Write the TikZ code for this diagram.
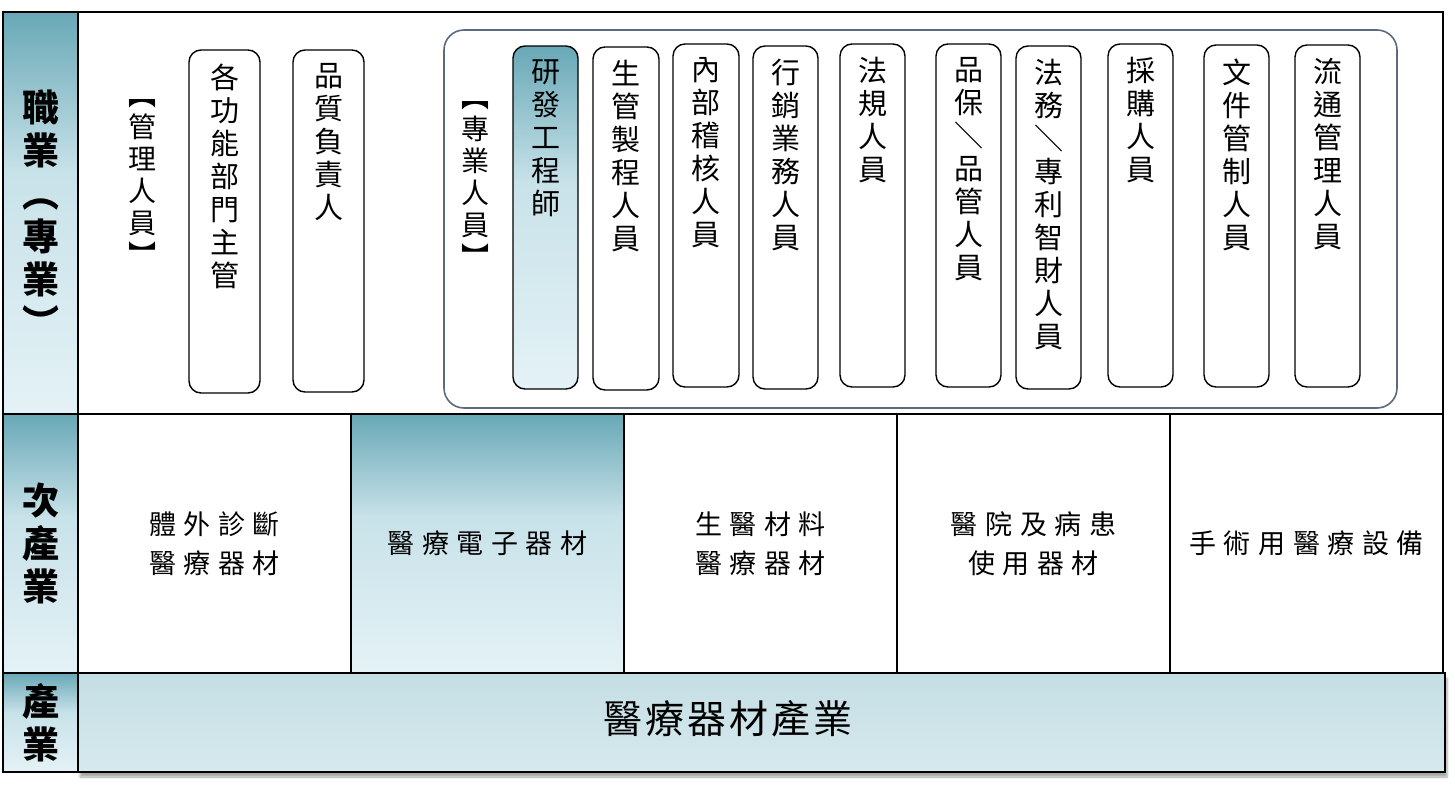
\documentclass[tikz,border=0pt]{standalone}
\usepackage{fontspec}
\setmainfont{Noto Sans CJK TC}
\newfontfamily\cjksp{Noto Sans CJK TC}[LetterSpace=28]
\newfontfamily\cjkbot{Noto Sans CJK TC}[LetterSpace=8]
\usetikzlibrary{shadows.blur}
\definecolor{htop}{RGB}{104,168,182}
\definecolor{hmid}{RGB}{200,226,233}
\definecolor{hbot}{RGB}{228,242,246}
\definecolor{botfill}{RGB}{196,222,228}
\definecolor{botfill2}{RGB}{214,233,238}
\definecolor{frameblue}{RGB}{92,106,126}
\pgfdeclareverticalshading{hdrshade}{100bp}{color(0bp)=(hbot); color(25bp)=(hbot); color(55bp)=(hmid); color(75bp)=(htop); color(100bp)=(htop)}
\tikzset{
  hdr/.style={draw=black, line width=2pt, shade, shading=hdrshade, inner sep=0pt, outer sep=0pt,
    align=center, font=\bfseries\fontsize{37}{43}\selectfont},
  cell/.style={draw=black, line width=1.5pt, fill=white, inner sep=0pt, outer sep=0pt,
    align=center, font=\cjksp\fontsize{27}{39}\selectfont},
  pbox/.style={draw=black, line width=1.4pt, rounded corners=12pt, inner sep=0pt},
  wbox/.style={pbox, fill=white},
  sbox/.style={pbox, shade, shading=hdrshade},
  vtext/.style={font=\fontsize{29}{33}\selectfont, align=center, inner sep=0pt, anchor=north},
  vlabel/.style={font=\fontsize{28}{32}\selectfont, align=center, inner sep=0pt},
}
\begin{document}
\begin{tikzpicture}[x=1pt,y=-1pt]
\useasboundingbox (0,0) rectangle (1455,790);
% row 1
\node[cell, minimum width=1365, minimum height=402] (c1) at (760.5,213) {};
\node[hdr, minimum width=75, minimum height=402] (h1) at (40.5,213) {職\\業\\︵\\專\\業\\︶};
% row 2
\node[hdr, minimum width=75, minimum height=259] (h2) at (40.5,543.5) {次\\產\\業};
\node[cell] (s1) at (214.5,543.5) [minimum width=273, minimum height=259] {體外診斷\\醫療器材};
\node[cell, shade, shading=hdrshade] (s2) at (487.5,543.5) [minimum width=273, minimum height=259] {醫療電子器材};
\node[cell] (s3) at (760.5,543.5) [minimum width=273, minimum height=259] {生醫材料\\醫療器材};
\node[cell] (s4) at (1033.5,543.5) [minimum width=273, minimum height=259] {醫院及病患\\使用器材};
\node[cell] (s5) at (1306.5,543.5) [minimum width=273, minimum height=259] {手術用醫療設備};
% row 3
\node[draw=black, line width=2pt, top color=botfill, bottom color=botfill2, minimum width=1367, minimum height=99,
  inner sep=0pt, blur shadow={shadow xshift=2pt, shadow yshift=-5pt, shadow blur steps=6, shadow opacity=35}] (ind) at (761.5,722.5) {};
\node[font=\cjkbot\fontsize{39}{42}\selectfont, inner sep=0pt] (indt) at (728,719) {醫療器材產業};
\node[hdr, minimum width=75, minimum height=99] (h3) at (40.5,722.5) {產\\業};
% management
\node[vlabel] (mgr) at (142,182) {︻\\管\\理\\人\\員\\︼};
\node[wbox, minimum width=71, minimum height=343] (m1) at (224.5,221.5) {};
\node[vtext] (m1t) at ([yshift=-14pt]m1.north) {各\\功\\能\\部\\門\\主\\管};
\node[wbox, minimum width=71, minimum height=342] (m2) at (328.5,221) {};
\node[vtext] (m2t) at ([yshift=-14pt]m2.north) {品\\質\\負\\責\\人};
% professionals frame
\node[draw=frameblue, line width=1.6pt, rounded corners=20pt, minimum width=953, minimum height=378, inner sep=0pt] (pf) at (920.5,219) {};
\node[vlabel] (pro) at (475,184) {︻\\專\\業\\人\\員\\︼};
\node[sbox, minimum width=65, minimum height=343] (p1) at (545.5,217.5) {};
\node[vtext] (p1t) at ([yshift=-14pt]p1.north) {研\\發\\工\\程\\師};
\node[wbox, minimum width=66, minimum height=343] (p2) at (626,218.5) {};
\node[vtext] (p2t) at ([yshift=-14pt]p2.north) {生\\管\\製\\程\\人\\員};
\node[wbox, minimum width=66, minimum height=343] (p3) at (706,215.5) {};
\node[vtext] (p3t) at ([yshift=-14pt]p3.north) {內\\部\\稽\\核\\人\\員};
\node[wbox, minimum width=65, minimum height=343] (p4) at (785.5,217.5) {};
\node[vtext] (p4t) at ([yshift=-14pt]p4.north) {行\\銷\\業\\務\\人\\員};
\node[wbox, minimum width=65, minimum height=343] (p5) at (872.5,215.5) {};
\node[vtext] (p5t) at ([yshift=-14pt]p5.north) {法\\規\\人\\員};
\node[wbox, minimum width=65, minimum height=343] (p6) at (968.5,215.5) {};
\node[vtext] (p6t) at ([yshift=-14pt]p6.north) {品\\保\\＼\\品\\管\\人\\員};
\node[wbox, minimum width=65, minimum height=343] (p7) at (1048.5,217.5) {};
\node[vtext] (p7t) at ([yshift=-14pt]p7.north) {法\\務\\＼\\專\\利\\智\\財\\人\\員};
\node[wbox, minimum width=65, minimum height=343] (p8) at (1140.5,215.5) {};
\node[vtext] (p8t) at ([yshift=-14pt]p8.north) {採\\購\\人\\員};
\node[wbox, minimum width=65, minimum height=342] (p9) at (1236.5,216) {};
\node[vtext] (p9t) at ([yshift=-14pt]p9.north) {文\\件\\管\\制\\人\\員};
\node[wbox, minimum width=65, minimum height=342] (p10) at (1327.5,216) {};
\node[vtext] (p10t) at ([yshift=-14pt]p10.north) {流\\通\\管\\理\\人\\員};
\end{tikzpicture}
\end{document}
